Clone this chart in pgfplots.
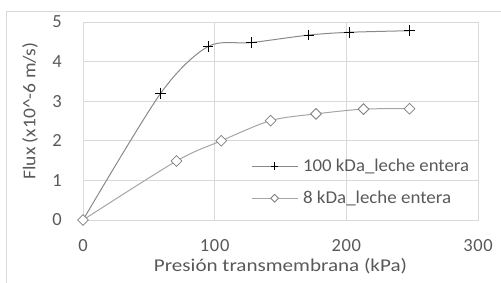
\documentclass[border=0pt]{standalone}
\usepackage{fontspec}
\setmainfont{Carlito}
\usepackage{graphicx}
\usepackage{pgfplots}
\pgfplotsset{compat=1.18}
\definecolor{gridc}{HTML}{D9D9D9}
\definecolor{txtc}{HTML}{595959}
\definecolor{lineA}{HTML}{8A8A8A}
\definecolor{lineB}{HTML}{A5A5A5}
\definecolor{markB}{HTML}{7F7F7F}
\newcommand\cf{\fontsize{18}{22}\selectfont}
\newcommand\lf{\fontsize{18.5}{22}\selectfont\addfontfeature{LetterSpace=3.5}}
\begin{document}
\begin{tikzpicture}
\useasboundingbox (-83pt,-62pt) rectangle (418pt,220pt);
\draw[gridc, line width=1pt] (-76pt,-63pt) -- (-76pt,209pt) -- (419pt,209pt);
\begin{axis}[
  at={(0pt,0pt)}, anchor=south west,
  scale only axis, width=395pt, height=198pt,
  xmin=0, xmax=300, ymin=0, ymax=5,
  xtick={0,100,200,300}, ytick={0,1,2,3,4,5},
  grid=major,
  major grid style={color=gridc, line width=0.9pt},
  axis line style={color=gridc, line width=0.9pt},
  tick style={draw=none},
  /pgf/number format/assume math mode=true,
  ticklabel style={font=\lf, text=txtc, inner sep=0pt},
  xticklabel style={anchor=base, yshift=-31pt},
  yticklabel style={anchor=east, xshift=-21pt},
  xlabel={\resizebox{253pt}{\height}{Presión transmembrana (kPa)}},
  ylabel={\resizebox{137pt}{\height}{Flux (x10\^{}-6 m/s)}},
  label style={font=\cf, text=txtc},
  xlabel style={at={(axis description cs:0.5,-0.232)}, anchor=center},
  ylabel style={at={(axis description cs:-0.134,0.55)}, anchor=center, rotate=0},
  legend style={draw=none, fill=none, at={(rel axis cs:0.425,0.318)}, anchor=north west,
    font=\cf, text=txtc, inner sep=0pt, row sep=14pt, column sep=3pt,
    nodes={inner sep=2pt}},
  legend cell align=left,
  legend image code/.code={
    \draw[#1, mark repeat=2, mark phase=2, every mark/.append style={scale=0.72}] plot coordinates {(0pt,0pt) (23pt,0pt) (46pt,0pt)};
  },
]
\addplot[color=lineA, line width=1pt, smooth, tension=0.5, mark=+,
  mark options={draw=black, line width=0.8pt, mark size=5.3pt}]
  coordinates {(0,0) (59,3.2) (95,4.38) (128,4.48) (171.5,4.67) (202,4.74) (248,4.78)};
\addlegendentry{\resizebox{166pt}{\height}{100 kDa\_leche entera}}
\addplot[color=lineB, line width=1pt, smooth, tension=0.5, mark=square*,
  mark options={draw=markB, fill=white, line width=0.8pt, mark size=3.8pt, rotate=45}]
  coordinates {(0,0) (71,1.49) (105,2.0) (142.5,2.51) (177,2.68) (213,2.80) (248,2.81)};
\addlegendentry{\resizebox{148pt}{\height}{8 kDa\_leche entera}}
\end{axis}
\end{tikzpicture}
\end{document}
